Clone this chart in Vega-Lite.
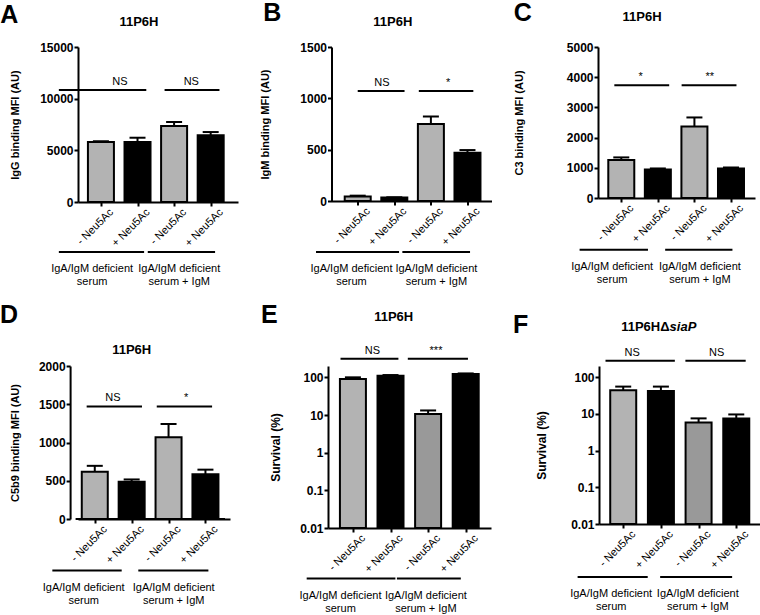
{
  "$schema": "https://vega.github.io/schema/vega-lite/v6.json",
  "padding": {"left": 0, "top": 1, "right": 0, "bottom": 0},
  "config": {
    "font": "Liberation Sans",
    "view": {"stroke": null},
    "axis": {"domainColor": "black", "domainWidth": 2, "tickColor": "black", "tickWidth": 2, "tickSize": 4, "grid": false, "labelColor": "black", "labelFontSize": 12, "labelFontWeight": "bold", "labelPadding": 1, "titleColor": "black", "titleFontSize": 11, "titleFontWeight": "bold", "labelFont": "Liberation Sans", "titleFont": "Liberation Sans"},
    "axisX": {"labelAngle": -45, "labelAlign": "right", "labelBaseline": "top", "labelFontWeight": "normal", "labelFontSize": 11, "labelPadding": 0, "labelOffset": 6, "labelOverlap": false},
    "title": {"font": "Liberation Sans", "fontSize": 25, "fontWeight": "bold", "color": "black", "anchor": "start", "frame": "bounds"},
    "text": {"font": "Liberation Sans", "color": "black"}
  },
  "datasets": {
    "bars": [
      {"panel": "A", "pos": 1, "treat": "-", "value": 5800, "upper": 5870},
      {"panel": "A", "pos": 2, "treat": "+", "value": 5800, "upper": 6220},
      {"panel": "A", "pos": 3, "treat": "-", "value": 7350, "upper": 7740},
      {"panel": "A", "pos": 4, "treat": "+", "value": 6450, "upper": 6770},
      {"panel": "B", "pos": 1, "treat": "-", "value": 45, "upper": 52},
      {"panel": "B", "pos": 2, "treat": "+", "value": 33, "upper": 36},
      {"panel": "B", "pos": 3, "treat": "-", "value": 751, "upper": 823},
      {"panel": "B", "pos": 4, "treat": "+", "value": 470, "upper": 496},
      {"panel": "C", "pos": 1, "treat": "-", "value": 1258, "upper": 1344},
      {"panel": "C", "pos": 2, "treat": "+", "value": 945, "upper": 978},
      {"panel": "C", "pos": 3, "treat": "-", "value": 2365, "upper": 2667},
      {"panel": "C", "pos": 4, "treat": "+", "value": 978, "upper": 1010},
      {"panel": "D", "pos": 1, "treat": "-", "value": 619, "upper": 695},
      {"panel": "D", "pos": 2, "treat": "+", "value": 488, "upper": 517},
      {"panel": "D", "pos": 3, "treat": "-", "value": 1068, "upper": 1242},
      {"panel": "D", "pos": 4, "treat": "+", "value": 585, "upper": 645},
      {"panel": "E", "pos": 1, "treat": "-", "value": 90, "upper": 100},
      {"panel": "E", "pos": 2, "treat": "+", "value": 111, "upper": 115},
      {"panel": "E", "pos": 3, "treat": "-", "value": 10.6, "upper": 13.2},
      {"panel": "E", "pos": 4, "treat": "+", "value": 122, "upper": 127},
      {"panel": "F", "pos": 1, "treat": "-", "value": 44, "upper": 55},
      {"panel": "F", "pos": 2, "treat": "+", "value": 42, "upper": 55},
      {"panel": "F", "pos": 3, "treat": "-", "value": 5.75, "upper": 7.5},
      {"panel": "F", "pos": 4, "treat": "+", "value": 7.4, "upper": 9.6}
    ],
    "sig": [
      {"panel": "A", "x1": -0.15, "x2": 2.24, "y": 10840, "tx": 1.52, "label": "NS"},
      {"panel": "A", "x1": 2.74, "x2": 4.24, "y": 10840, "tx": 3.47, "label": "NS"},
      {"panel": "B", "x1": 1.0, "x2": 2.28, "y": 1071, "tx": 1.66, "label": "NS"},
      {"panel": "B", "x1": 2.67, "x2": 4.16, "y": 1071, "tx": 3.47, "label": "*"},
      {"panel": "C", "x1": 0.81, "x2": 2.31, "y": 3732, "tx": 1.53, "label": "*"},
      {"panel": "C", "x1": 2.65, "x2": 4.15, "y": 3732, "tx": 3.42, "label": "**"},
      {"panel": "D", "x1": 0.78, "x2": 2.28, "y": 1472, "tx": 1.49, "label": "NS"},
      {"panel": "D", "x1": 2.68, "x2": 4.18, "y": 1472, "tx": 3.48, "label": "*"},
      {"panel": "E", "x1": 0.67, "x2": 2.21, "y": 313, "tx": 1.52, "label": "NS"},
      {"panel": "E", "x1": 2.46, "x2": 4.06, "y": 313, "tx": 3.21, "label": "***"},
      {"panel": "F", "x1": 0.53, "x2": 2.37, "y": 279, "tx": 1.24, "label": "NS"},
      {"panel": "F", "x1": 2.65, "x2": 4.25, "y": 279, "tx": 3.48, "label": "NS"}
    ],
    "groups": [
      {"panel": "A", "x1": -0.15, "x2": 2.18, "tx": 0.76, "label": "IgA/IgM deficient\nserum"},
      {"panel": "A", "x1": 2.28, "x2": 4.12, "tx": 3.14, "label": "IgA/IgM deficient\nserum + IgM"},
      {"panel": "B", "x1": -0.14, "x2": 2.13, "tx": 0.83, "label": "IgA/IgM deficient\nserum"},
      {"panel": "B", "x1": 2.22, "x2": 4.07, "tx": 3.15, "label": "IgA/IgM deficient\nserum + IgM"},
      {"panel": "C", "x1": -0.14, "x2": 1.73, "tx": 0.75, "label": "IgA/IgM deficient\nserum"},
      {"panel": "C", "x1": 2.2, "x2": 4.04, "tx": 3.15, "label": "IgA/IgM deficient\nserum + IgM"},
      {"panel": "D", "x1": -0.15, "x2": 1.73, "tx": 0.70, "label": "IgA/IgM deficient\nserum"},
      {"panel": "D", "x1": 2.18, "x2": 4.08, "tx": 3.14, "label": "IgA/IgM deficient\nserum + IgM"},
      {"panel": "E", "x1": -0.23, "x2": 2.13, "tx": 0.67, "label": "IgA/IgM deficient\nserum"},
      {"panel": "E", "x1": 2.17, "x2": 3.87, "tx": 2.94, "label": "IgA/IgM deficient\nserum + IgM"},
      {"panel": "F", "x1": -0.21, "x2": 1.65, "tx": 0.68, "label": "IgA/IgM deficient\nserum"},
      {"panel": "F", "x1": 1.98, "x2": 3.89, "tx": 2.98, "label": "IgA/IgM deficient\nserum + IgM"}
    ]
  },
  "vconcat": [
    {
      "spacing": 21.5,
      "hconcat": [
        {
          "width": 160, "height": 155,
          "title": {"text": "A", "dx": -9.5, "offset": -12.1},
          "resolve": {"axis": {"x": "independent", "y": "independent"}},
          "layer": [
            {"data": {"name": "bars"}, "transform": [{"filter": "datum.panel == 'A'"}],
             "mark": {"type": "bar", "width": 26, "stroke": "black", "strokeWidth": 2},
             "encoding": {
               "x": {"field": "pos", "type": "quantitative", "scale": {"domain": [0.51, 4.61]}, "axis": {"orient": "bottom", "values": [1, 2, 3, 4], "labelExpr": "datum.value % 2 == 1 ? '- Neu5Ac' : '+ Neu5Ac'", "title": null}},
               "y": {"field": "value", "type": "quantitative", "scale": {"domain": [0, 15000]}, "axis": {"orient": "left", "values": [0, 5000, 10000, 15000], "format": "d", "title": "IgG binding MFI (AU)", "titlePadding": 19}},
               "fill": {"condition": {"test": "datum.treat == '+'", "value": "black"}, "value": "#b3b3b3"}
             }},
            {"data": {"name": "bars"}, "transform": [{"filter": "datum.panel == 'A'"}],
             "mark": {"type": "rule", "strokeWidth": 2, "color": "black"},
             "encoding": {
               "x": {"field": "pos", "type": "quantitative", "scale": {"domain": [0.51, 4.61]}, "axis": null},
               "y": {"field": "value", "type": "quantitative", "scale": {"domain": [0, 15000]}, "axis": null},
               "y2": {"field": "upper"}
             }},
            {"data": {"name": "bars"}, "transform": [{"filter": "datum.panel == 'A'"}],
             "mark": {"type": "tick", "orient": "horizontal", "size": 16, "thickness": 2, "color": "black", "opacity": 1},
             "encoding": {
               "x": {"field": "pos", "type": "quantitative", "scale": {"domain": [0.51, 4.61]}, "axis": null},
               "y": {"field": "upper", "type": "quantitative", "scale": {"domain": [0, 15000]}, "axis": null}
             }},
            {"data": {"name": "sig"}, "transform": [{"filter": "datum.panel == 'A'"}],
             "mark": {"type": "rule", "strokeWidth": 2, "color": "black"},
             "encoding": {
               "x": {"field": "x1", "type": "quantitative", "scale": {"domain": [0.51, 4.61]}, "axis": null},
               "x2": {"field": "x2"},
               "y": {"field": "y", "type": "quantitative", "scale": {"domain": [0, 15000]}, "axis": null}
             }},
            {"data": {"name": "sig"}, "transform": [{"filter": "datum.panel == 'A'"}],
             "mark": {"type": "text", "fontSize": 11, "dy": -5, "baseline": "alphabetic"},
             "encoding": {
               "x": {"field": "tx", "type": "quantitative", "scale": {"domain": [0.51, 4.61]}, "axis": null},
               "y": {"field": "y", "type": "quantitative", "scale": {"domain": [0, 15000]}, "axis": null},
               "text": {"field": "label"}
             }},
            {"data": {"name": "groups"}, "transform": [{"filter": "datum.panel == 'A'"}],
             "mark": {"type": "rule", "strokeWidth": 2, "color": "black"},
             "encoding": {
               "x": {"field": "x1", "type": "quantitative", "scale": {"domain": [0.51, 4.61]}, "axis": null},
               "x2": {"field": "x2"},
               "y": {"datum": -4840, "type": "quantitative", "scale": {"domain": [0, 15000]}, "axis": null}
             }},
            {"data": {"name": "groups"}, "transform": [{"filter": "datum.panel == 'A'"}],
             "mark": {"type": "text", "fontSize": 11, "baseline": "top", "dy": 11, "lineBreak": "\n", "lineHeight": 13},
             "encoding": {
               "x": {"field": "tx", "type": "quantitative", "scale": {"domain": [0.51, 4.61]}, "axis": null},
               "y": {"datum": -4840, "type": "quantitative", "scale": {"domain": [0, 15000]}, "axis": null},
               "text": {"field": "label"}
             }},
            {"data": {"values": [{"strain": "11P6H"}]},
             "mark": {"type": "text", "fontSize": 13, "fontWeight": "bold", "baseline": "alphabetic"},
             "encoding": {
               "x": {"datum": 2.04, "type": "quantitative", "scale": {"domain": [0.51, 4.61]}, "axis": null},
               "y": {"datum": 17060, "type": "quantitative", "scale": {"domain": [0, 15000]}, "axis": null},
               "text": {"field": "strain"}
             }}
          ]
        },
        {
          "width": 160, "height": 154,
          "title": {"text": "B", "dx": 3.5, "offset": -10.4},
          "resolve": {"axis": {"x": "independent", "y": "independent"}},
          "layer": [
            {"data": {"name": "bars"}, "transform": [{"filter": "datum.panel == 'B'"}],
             "mark": {"type": "bar", "width": 26, "stroke": "black", "strokeWidth": 2},
             "encoding": {
               "x": {"field": "pos", "type": "quantitative", "scale": {"domain": [0.42, 4.52]}, "axis": {"orient": "bottom", "values": [1, 2, 3, 4], "labelExpr": "datum.value % 2 == 1 ? '- Neu5Ac' : '+ Neu5Ac'", "title": null}},
               "y": {"field": "value", "type": "quantitative", "scale": {"domain": [0, 1500]}, "axis": {"orient": "left", "values": [0, 500, 1000, 1500], "format": "d", "title": "IgM binding MFI (AU)", "titlePadding": 29}},
               "fill": {"condition": {"test": "datum.treat == '+'", "value": "black"}, "value": "#b3b3b3"}
             }},
            {"data": {"name": "bars"}, "transform": [{"filter": "datum.panel == 'B'"}],
             "mark": {"type": "rule", "strokeWidth": 2, "color": "black"},
             "encoding": {
               "x": {"field": "pos", "type": "quantitative", "scale": {"domain": [0.42, 4.52]}, "axis": null},
               "y": {"field": "value", "type": "quantitative", "scale": {"domain": [0, 1500]}, "axis": null},
               "y2": {"field": "upper"}
             }},
            {"data": {"name": "bars"}, "transform": [{"filter": "datum.panel == 'B'"}],
             "mark": {"type": "tick", "orient": "horizontal", "size": 16, "thickness": 2, "color": "black", "opacity": 1},
             "encoding": {
               "x": {"field": "pos", "type": "quantitative", "scale": {"domain": [0.42, 4.52]}, "axis": null},
               "y": {"field": "upper", "type": "quantitative", "scale": {"domain": [0, 1500]}, "axis": null}
             }},
            {"data": {"name": "sig"}, "transform": [{"filter": "datum.panel == 'B'"}],
             "mark": {"type": "rule", "strokeWidth": 2, "color": "black"},
             "encoding": {
               "x": {"field": "x1", "type": "quantitative", "scale": {"domain": [0.42, 4.52]}, "axis": null},
               "x2": {"field": "x2"},
               "y": {"field": "y", "type": "quantitative", "scale": {"domain": [0, 1500]}, "axis": null}
             }},
            {"data": {"name": "sig"}, "transform": [{"filter": "datum.panel == 'B'"}],
             "mark": {"type": "text", "fontSize": 11, "dy": -5, "baseline": "alphabetic"},
             "encoding": {
               "x": {"field": "tx", "type": "quantitative", "scale": {"domain": [0.42, 4.52]}, "axis": null},
               "y": {"field": "y", "type": "quantitative", "scale": {"domain": [0, 1500]}, "axis": null},
               "text": {"field": "label"}
             }},
            {"data": {"name": "groups"}, "transform": [{"filter": "datum.panel == 'B'"}],
             "mark": {"type": "rule", "strokeWidth": 2, "color": "black"},
             "encoding": {
               "x": {"field": "x1", "type": "quantitative", "scale": {"domain": [0.42, 4.52]}, "axis": null},
               "x2": {"field": "x2"},
               "y": {"datum": -497, "type": "quantitative", "scale": {"domain": [0, 1500]}, "axis": null}
             }},
            {"data": {"name": "groups"}, "transform": [{"filter": "datum.panel == 'B'"}],
             "mark": {"type": "text", "fontSize": 11, "baseline": "top", "dy": 11, "lineBreak": "\n", "lineHeight": 13},
             "encoding": {
               "x": {"field": "tx", "type": "quantitative", "scale": {"domain": [0.42, 4.52]}, "axis": null},
               "y": {"datum": -497, "type": "quantitative", "scale": {"domain": [0, 1500]}, "axis": null},
               "text": {"field": "label"}
             }},
            {"data": {"values": [{"strain": "11P6H"}]},
             "mark": {"type": "text", "fontSize": 13, "fontWeight": "bold", "baseline": "alphabetic"},
             "encoding": {
               "x": {"datum": 1.96, "type": "quantitative", "scale": {"domain": [0.42, 4.52]}, "axis": null},
               "y": {"datum": 1707, "type": "quantitative", "scale": {"domain": [0, 1500]}, "axis": null},
               "text": {"field": "strain"}
             }}
          ]
        },
        {
          "width": 157, "height": 151,
          "title": {"text": "C", "dx": 0.5, "offset": -15.4},
          "resolve": {"axis": {"x": "independent", "y": "independent"}},
          "layer": [
            {"data": {"name": "bars"}, "transform": [{"filter": "datum.panel == 'C'"}],
             "mark": {"type": "bar", "width": 26, "stroke": "black", "strokeWidth": 2},
             "encoding": {
               "x": {"field": "pos", "type": "quantitative", "scale": {"domain": [0.5, 4.52]}, "axis": {"orient": "bottom", "values": [1, 2, 3, 4], "labelExpr": "datum.value % 2 == 1 ? '- Neu5Ac' : '+ Neu5Ac'", "title": null}},
               "y": {"field": "value", "type": "quantitative", "scale": {"domain": [0, 5000]}, "axis": {"orient": "left", "values": [0, 1000, 2000, 3000, 4000, 5000], "format": "d", "title": "C3 binding MFI (AU)", "titlePadding": 42}},
               "fill": {"condition": {"test": "datum.treat == '+'", "value": "black"}, "value": "#b3b3b3"}
             }},
            {"data": {"name": "bars"}, "transform": [{"filter": "datum.panel == 'C'"}],
             "mark": {"type": "rule", "strokeWidth": 2, "color": "black"},
             "encoding": {
               "x": {"field": "pos", "type": "quantitative", "scale": {"domain": [0.5, 4.52]}, "axis": null},
               "y": {"field": "value", "type": "quantitative", "scale": {"domain": [0, 5000]}, "axis": null},
               "y2": {"field": "upper"}
             }},
            {"data": {"name": "bars"}, "transform": [{"filter": "datum.panel == 'C'"}],
             "mark": {"type": "tick", "orient": "horizontal", "size": 16, "thickness": 2, "color": "black", "opacity": 1},
             "encoding": {
               "x": {"field": "pos", "type": "quantitative", "scale": {"domain": [0.5, 4.52]}, "axis": null},
               "y": {"field": "upper", "type": "quantitative", "scale": {"domain": [0, 5000]}, "axis": null}
             }},
            {"data": {"name": "sig"}, "transform": [{"filter": "datum.panel == 'C'"}],
             "mark": {"type": "rule", "strokeWidth": 2, "color": "black"},
             "encoding": {
               "x": {"field": "x1", "type": "quantitative", "scale": {"domain": [0.5, 4.52]}, "axis": null},
               "x2": {"field": "x2"},
               "y": {"field": "y", "type": "quantitative", "scale": {"domain": [0, 5000]}, "axis": null}
             }},
            {"data": {"name": "sig"}, "transform": [{"filter": "datum.panel == 'C'"}],
             "mark": {"type": "text", "fontSize": 11, "dy": -5, "baseline": "alphabetic"},
             "encoding": {
               "x": {"field": "tx", "type": "quantitative", "scale": {"domain": [0.5, 4.52]}, "axis": null},
               "y": {"field": "y", "type": "quantitative", "scale": {"domain": [0, 5000]}, "axis": null},
               "text": {"field": "label"}
             }},
            {"data": {"name": "groups"}, "transform": [{"filter": "datum.panel == 'C'"}],
             "mark": {"type": "rule", "strokeWidth": 2, "color": "black"},
             "encoding": {
               "x": {"field": "x1", "type": "quantitative", "scale": {"domain": [0.5, 4.52]}, "axis": null},
               "x2": {"field": "x2"},
               "y": {"datum": -1712, "type": "quantitative", "scale": {"domain": [0, 5000]}, "axis": null}
             }},
            {"data": {"name": "groups"}, "transform": [{"filter": "datum.panel == 'C'"}],
             "mark": {"type": "text", "fontSize": 11, "baseline": "top", "dy": 11, "lineBreak": "\n", "lineHeight": 13},
             "encoding": {
               "x": {"field": "tx", "type": "quantitative", "scale": {"domain": [0.5, 4.52]}, "axis": null},
               "y": {"datum": -1712, "type": "quantitative", "scale": {"domain": [0, 5000]}, "axis": null},
               "text": {"field": "label"}
             }},
            {"data": {"values": [{"strain": "11P6H"}]},
             "mark": {"type": "text", "fontSize": 13, "fontWeight": "bold", "baseline": "alphabetic"},
             "encoding": {
               "x": {"datum": 1.57, "type": "quantitative", "scale": {"domain": [0.5, 4.52]}, "axis": null},
               "y": {"datum": 5861, "type": "quantitative", "scale": {"domain": [0, 5000]}, "axis": null},
               "text": {"field": "strain"}
             }}
          ]
        }
      ]
    },
    {
      "spacing": 31,
      "hconcat": [
        {
          "width": 152, "height": 153,
          "title": {"text": "D", "dx": -9.3, "offset": 16.7},
          "resolve": {"axis": {"x": "independent", "y": "independent"}},
          "layer": [
            {"data": {"name": "bars"}, "transform": [{"filter": "datum.panel == 'D'"}],
             "mark": {"type": "bar", "width": 26, "stroke": "black", "strokeWidth": 2},
             "encoding": {
               "x": {"field": "pos", "type": "quantitative", "scale": {"domain": [0.681, 4.53]}, "axis": {"orient": "bottom", "values": [1, 2, 3, 4], "labelExpr": "datum.value % 2 == 1 ? '- Neu5Ac' : '+ Neu5Ac'", "title": null}},
               "y": {"field": "value", "type": "quantitative", "scale": {"domain": [0, 2000]}, "axis": {"orient": "left", "offset": 7.9, "values": [0, 500, 1000, 1500, 2000], "format": "d", "title": "C5b9 binding MFI (AU)", "titlePadding": 18}},
               "fill": {"condition": {"test": "datum.treat == '+'", "value": "black"}, "value": "#b3b3b3"}
             }},
            {"data": {"values": [{"baseline": 0}]},
             "mark": {"type": "rule", "strokeWidth": 2, "color": "black"},
             "encoding": {
               "x": {"datum": 0.48, "type": "quantitative", "scale": {"domain": [0.681, 4.53]}, "axis": null},
               "x2": {"datum": 4.53},
               "y": {"field": "baseline", "type": "quantitative", "scale": {"domain": [0, 2000]}, "axis": null}
             }},
            {"data": {"name": "bars"}, "transform": [{"filter": "datum.panel == 'D'"}],
             "mark": {"type": "rule", "strokeWidth": 2, "color": "black"},
             "encoding": {
               "x": {"field": "pos", "type": "quantitative", "scale": {"domain": [0.681, 4.53]}, "axis": null},
               "y": {"field": "value", "type": "quantitative", "scale": {"domain": [0, 2000]}, "axis": null},
               "y2": {"field": "upper"}
             }},
            {"data": {"name": "bars"}, "transform": [{"filter": "datum.panel == 'D'"}],
             "mark": {"type": "tick", "orient": "horizontal", "size": 16, "thickness": 2, "color": "black", "opacity": 1},
             "encoding": {
               "x": {"field": "pos", "type": "quantitative", "scale": {"domain": [0.681, 4.53]}, "axis": null},
               "y": {"field": "upper", "type": "quantitative", "scale": {"domain": [0, 2000]}, "axis": null}
             }},
            {"data": {"name": "sig"}, "transform": [{"filter": "datum.panel == 'D'"}],
             "mark": {"type": "rule", "strokeWidth": 2, "color": "black"},
             "encoding": {
               "x": {"field": "x1", "type": "quantitative", "scale": {"domain": [0.681, 4.53]}, "axis": null},
               "x2": {"field": "x2"},
               "y": {"field": "y", "type": "quantitative", "scale": {"domain": [0, 2000]}, "axis": null}
             }},
            {"data": {"name": "sig"}, "transform": [{"filter": "datum.panel == 'D'"}],
             "mark": {"type": "text", "fontSize": 11, "dy": -5, "baseline": "alphabetic"},
             "encoding": {
               "x": {"field": "tx", "type": "quantitative", "scale": {"domain": [0.681, 4.53]}, "axis": null},
               "y": {"field": "y", "type": "quantitative", "scale": {"domain": [0, 2000]}, "axis": null},
               "text": {"field": "label"}
             }},
            {"data": {"name": "groups"}, "transform": [{"filter": "datum.panel == 'D'"}],
             "mark": {"type": "rule", "strokeWidth": 2, "color": "black"},
             "encoding": {
               "x": {"field": "x1", "type": "quantitative", "scale": {"domain": [0.681, 4.53]}, "axis": null},
               "x2": {"field": "x2"},
               "y": {"datum": -674, "type": "quantitative", "scale": {"domain": [0, 2000]}, "axis": null}
             }},
            {"data": {"name": "groups"}, "transform": [{"filter": "datum.panel == 'D'"}],
             "mark": {"type": "text", "fontSize": 11, "baseline": "top", "dy": 11, "lineBreak": "\n", "lineHeight": 13},
             "encoding": {
               "x": {"field": "tx", "type": "quantitative", "scale": {"domain": [0.681, 4.53]}, "axis": null},
               "y": {"datum": -674, "type": "quantitative", "scale": {"domain": [0, 2000]}, "axis": null},
               "text": {"field": "label"}
             }},
            {"data": {"values": [{"strain": "11P6H"}]},
             "mark": {"type": "text", "fontSize": 13, "fontWeight": "bold", "baseline": "alphabetic"},
             "encoding": {
               "x": {"datum": 2.0, "type": "quantitative", "scale": {"domain": [0.681, 4.53]}, "axis": null},
               "y": {"datum": 2152, "type": "quantitative", "scale": {"domain": [0, 2000]}, "axis": null},
               "text": {"field": "strain"}
             }}
          ]
        },
        {
          "spacing": 21,
          "hconcat": [
            {
              "width": 163, "height": 162,
              "title": {"text": "E", "dx": -8.6, "offset": -16.6},
              "resolve": {"axis": {"x": "independent", "y": "independent"}},
              "layer": [
                {"data": {"name": "bars"}, "transform": [{"filter": "datum.panel == 'E'"}],
                 "mark": {"type": "bar", "width": 26, "stroke": "black", "strokeWidth": 2},
                 "encoding": {
                   "x": {"field": "pos", "type": "quantitative", "scale": {"domain": [0.47, 4.54]}, "axis": {"orient": "bottom", "values": [1, 2, 3, 4], "labelExpr": "datum.value % 2 == 1 ? '- Neu5Ac' : '+ Neu5Ac'", "title": null}},
                   "y": {"field": "value", "type": "quantitative", "scale": {"type": "log", "domain": [0.01, 200]}, "axis": {"orient": "left", "values": [0.01, 0.1, 1, 10, 100], "format": "~g", "title": "Survival (%)", "titleFontSize": 12, "titlePadding": 17}},
                   "y2": {"datum": 0.01},
                   "fill": {"condition": [{"test": "datum.treat == '+'", "value": "black"}, {"test": "datum.pos == 3", "value": "#999999"}], "value": "#b3b3b3"}
                 }},
                {"data": {"name": "bars"}, "transform": [{"filter": "datum.panel == 'E'"}],
                 "mark": {"type": "rule", "strokeWidth": 2, "color": "black"},
                 "encoding": {
                   "x": {"field": "pos", "type": "quantitative", "scale": {"domain": [0.47, 4.54]}, "axis": null},
                   "y": {"field": "value", "type": "quantitative", "scale": {"type": "log", "domain": [0.01, 200]}, "axis": null},
                   "y2": {"field": "upper"}
                 }},
                {"data": {"name": "bars"}, "transform": [{"filter": "datum.panel == 'E'"}],
                 "mark": {"type": "tick", "orient": "horizontal", "size": 16, "thickness": 2, "color": "black", "opacity": 1},
                 "encoding": {
                   "x": {"field": "pos", "type": "quantitative", "scale": {"domain": [0.47, 4.54]}, "axis": null},
                   "y": {"field": "upper", "type": "quantitative", "scale": {"type": "log", "domain": [0.01, 200]}, "axis": null}
                 }},
                {"data": {"name": "sig"}, "transform": [{"filter": "datum.panel == 'E'"}],
                 "mark": {"type": "rule", "strokeWidth": 2, "color": "black"},
                 "encoding": {
                   "x": {"field": "x1", "type": "quantitative", "scale": {"domain": [0.47, 4.54]}, "axis": null},
                   "x2": {"field": "x2"},
                   "y": {"field": "y", "type": "quantitative", "scale": {"type": "log", "domain": [0.01, 200]}, "axis": null}
                 }},
                {"data": {"name": "sig"}, "transform": [{"filter": "datum.panel == 'E'"}],
                 "mark": {"type": "text", "fontSize": 11, "dy": -5, "baseline": "alphabetic"},
                 "encoding": {
                   "x": {"field": "tx", "type": "quantitative", "scale": {"domain": [0.47, 4.54]}, "axis": null},
                   "y": {"field": "y", "type": "quantitative", "scale": {"type": "log", "domain": [0.01, 200]}, "axis": null},
                   "text": {"field": "label"}
                 }},
                {"data": {"name": "groups"}, "transform": [{"filter": "datum.panel == 'E'"}],
                 "mark": {"type": "rule", "strokeWidth": 2, "color": "black"},
                 "encoding": {
                   "x": {"field": "x1", "type": "quantitative", "scale": {"domain": [0.47, 4.54]}, "axis": null},
                   "x2": {"field": "x2"},
                   "y": {"datum": 0.000455, "type": "quantitative", "scale": {"type": "log", "domain": [0.01, 200]}, "axis": null}
                 }},
                {"data": {"name": "groups"}, "transform": [{"filter": "datum.panel == 'E'"}],
                 "mark": {"type": "text", "fontSize": 11, "baseline": "top", "dy": 11, "lineBreak": "\n", "lineHeight": 13},
                 "encoding": {
                   "x": {"field": "tx", "type": "quantitative", "scale": {"domain": [0.47, 4.54]}, "axis": null},
                   "y": {"datum": 0.000455, "type": "quantitative", "scale": {"type": "log", "domain": [0.01, 200]}, "axis": null},
                   "text": {"field": "label"}
                 }},
                {"data": {"values": [{"strain": "11P6H"}]},
                 "mark": {"type": "text", "fontSize": 13, "fontWeight": "bold", "baseline": "alphabetic"},
                 "encoding": {
                   "x": {"datum": 2.085, "type": "quantitative", "scale": {"domain": [0.47, 4.54]}, "axis": null},
                   "y": {"datum": 3097, "type": "quantitative", "scale": {"type": "log", "domain": [0.01, 200]}, "axis": null},
                   "text": {"field": "strain"}
                 }}
              ]
            },
            {
              "width": 163, "height": 158,
              "title": {"text": "F", "dx": -22.7, "offset": -16.6},
              "resolve": {"axis": {"x": "independent", "y": "independent"}},
              "layer": [
                {"data": {"name": "bars"}, "transform": [{"filter": "datum.panel == 'F'"}],
                 "mark": {"type": "bar", "width": 26, "stroke": "black", "strokeWidth": 2},
                 "encoding": {
                   "x": {"field": "pos", "type": "quantitative", "scale": {"domain": [0.49, 4.55]}, "axis": {"orient": "bottom", "values": [1, 2, 3, 4], "labelExpr": "datum.value % 2 == 1 ? '- Neu5Ac' : '+ Neu5Ac'", "title": null}},
                   "y": {"field": "value", "type": "quantitative", "scale": {"type": "log", "domain": [0.01, 200]}, "axis": {"orient": "left", "values": [0.01, 0.1, 1, 10, 100], "format": "~g", "title": "Survival (%)", "titleFontSize": 12, "titlePadding": 22}},
                   "y2": {"datum": 0.01},
                   "fill": {"condition": [{"test": "datum.treat == '+'", "value": "black"}, {"test": "datum.pos == 3", "value": "#999999"}], "value": "#b3b3b3"}
                 }},
                {"data": {"name": "bars"}, "transform": [{"filter": "datum.panel == 'F'"}],
                 "mark": {"type": "rule", "strokeWidth": 2, "color": "black"},
                 "encoding": {
                   "x": {"field": "pos", "type": "quantitative", "scale": {"domain": [0.49, 4.55]}, "axis": null},
                   "y": {"field": "value", "type": "quantitative", "scale": {"type": "log", "domain": [0.01, 200]}, "axis": null},
                   "y2": {"field": "upper"}
                 }},
                {"data": {"name": "bars"}, "transform": [{"filter": "datum.panel == 'F'"}],
                 "mark": {"type": "tick", "orient": "horizontal", "size": 16, "thickness": 2, "color": "black", "opacity": 1},
                 "encoding": {
                   "x": {"field": "pos", "type": "quantitative", "scale": {"domain": [0.49, 4.55]}, "axis": null},
                   "y": {"field": "upper", "type": "quantitative", "scale": {"type": "log", "domain": [0.01, 200]}, "axis": null}
                 }},
                {"data": {"name": "sig"}, "transform": [{"filter": "datum.panel == 'F'"}],
                 "mark": {"type": "rule", "strokeWidth": 2, "color": "black"},
                 "encoding": {
                   "x": {"field": "x1", "type": "quantitative", "scale": {"domain": [0.49, 4.55]}, "axis": null},
                   "x2": {"field": "x2"},
                   "y": {"field": "y", "type": "quantitative", "scale": {"type": "log", "domain": [0.01, 200]}, "axis": null}
                 }},
                {"data": {"name": "sig"}, "transform": [{"filter": "datum.panel == 'F'"}],
                 "mark": {"type": "text", "fontSize": 11, "dy": -5, "baseline": "alphabetic"},
                 "encoding": {
                   "x": {"field": "tx", "type": "quantitative", "scale": {"domain": [0.49, 4.55]}, "axis": null},
                   "y": {"field": "y", "type": "quantitative", "scale": {"type": "log", "domain": [0.01, 200]}, "axis": null},
                   "text": {"field": "label"}
                 }},
                {"data": {"name": "groups"}, "transform": [{"filter": "datum.panel == 'F'"}],
                 "mark": {"type": "rule", "strokeWidth": 2, "color": "black"},
                 "encoding": {
                   "x": {"field": "x1", "type": "quantitative", "scale": {"domain": [0.49, 4.55]}, "axis": null},
                   "x2": {"field": "x2"},
                   "y": {"datum": 0.000359, "type": "quantitative", "scale": {"type": "log", "domain": [0.01, 200]}, "axis": null}
                 }},
                {"data": {"name": "groups"}, "transform": [{"filter": "datum.panel == 'F'"}],
                 "mark": {"type": "text", "fontSize": 11, "baseline": "top", "dy": 11, "lineBreak": "\n", "lineHeight": 13},
                 "encoding": {
                   "x": {"field": "tx", "type": "quantitative", "scale": {"domain": [0.49, 4.55]}, "axis": null},
                   "y": {"datum": 0.000359, "type": "quantitative", "scale": {"type": "log", "domain": [0.01, 200]}, "axis": null},
                   "text": {"field": "label"}
                 }},
                {"data": {"values": [{"strain": "11P6HΔ"}]},
                 "mark": {"type": "text", "fontSize": 13, "fontWeight": "bold", "align": "right", "baseline": "alphabetic"},
                 "encoding": {
                   "x": {"datum": 2.23, "type": "quantitative", "scale": {"domain": [0.49, 4.55]}, "axis": null},
                   "y": {"datum": 1746, "type": "quantitative", "scale": {"type": "log", "domain": [0.01, 200]}, "axis": null},
                   "text": {"field": "strain"}
                 }},
                {"data": {"values": [{"gene": "siaP"}]},
                 "mark": {"type": "text", "fontSize": 13, "fontWeight": "bold", "fontStyle": "italic", "align": "left", "baseline": "alphabetic"},
                 "encoding": {
                   "x": {"datum": 2.23, "type": "quantitative", "scale": {"domain": [0.49, 4.55]}, "axis": null},
                   "y": {"datum": 1746, "type": "quantitative", "scale": {"type": "log", "domain": [0.01, 200]}, "axis": null},
                   "text": {"field": "gene"}
                 }}
              ]
            }
          ]
        }
      ]
    }
  ],
  "spacing": 14
}
